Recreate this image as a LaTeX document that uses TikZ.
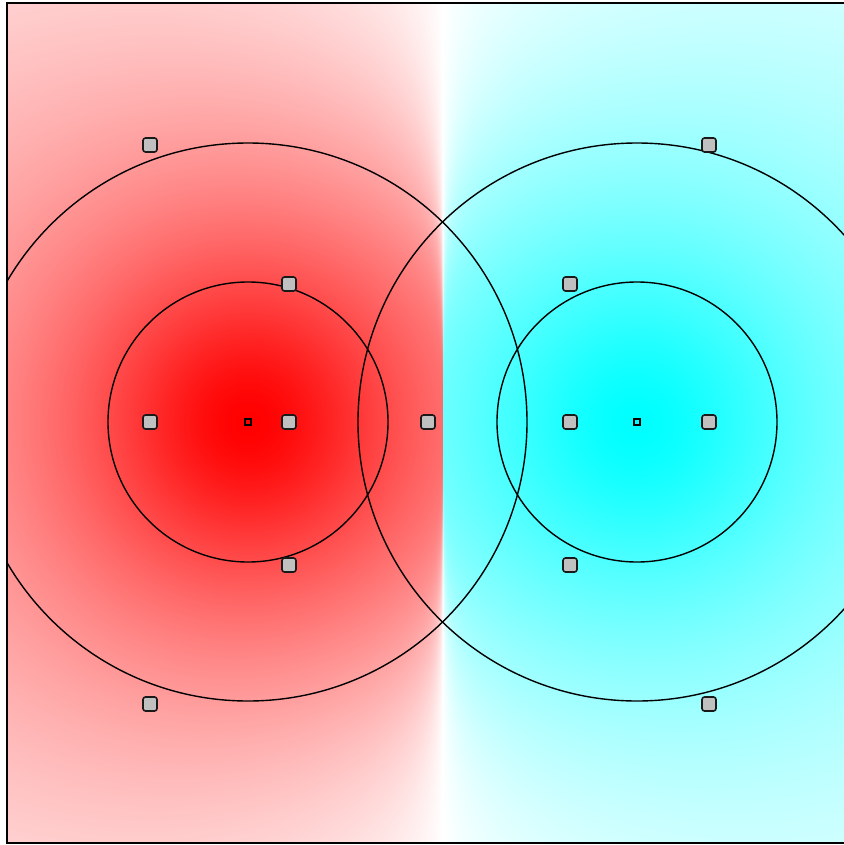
\documentclass[tikz,border=0pt]{standalone}
\pgfdeclarefunctionalshading{field}{\pgfpoint{0bp}{0bp}}{\pgfpoint{844bp}{845bp}}{}{
  423 sub dup mul exch dup 442.5 lt
  {
    dup 248 sub dup mul 2 index add sqrt
    205 div 1.8 exp 1 add 1 exch div 0.85 exp
    exch 442.5 exch sub
    dup 3 index 1000 div dup mul 0.003 mul 0.001 add add
    div mul exch pop
    1 exch sub 1 exch dup
  }
  {
    dup 637 sub dup mul 2 index add sqrt
    205 div 1.8 exp 1 add 1 exch div 0.85 exp
    exch 442.5 sub
    dup 3 index 1000 div dup mul 0.003 mul 0.001 add add
    div mul exch pop
    1 exch sub 1 1
  } ifelse
}
\definecolor{handlegray}{RGB}{192,192,192}
\tikzset{
  handle/.style={draw=black!90, fill=handlegray, line width=1.6bp, rectangle,
    rounded corners=2.5bp, minimum size=14bp, inner sep=0pt},
  chg/.style={draw=black, line width=1.6bp, rectangle, minimum size=6.5bp, inner sep=0pt},
  ring/.style={draw=black, line width=1.4bp},
  frameline/.style={draw=black, line width=2bp}
}
\begin{document}
\begin{tikzpicture}[x=1bp,y=-1bp]
\clip (0,0) rectangle (844,845);
\begin{scope}
  \clip (7,2.7) rectangle (852,843);
  \node[inner sep=0pt, outer sep=0pt, anchor=north west] (bg) at (0,0) {\pgfuseshading{field}};
  \coordinate (cL) at (248,422);
  \coordinate (cR) at (637,422);
  \draw[ring] (cL) circle[radius=279];
  \draw[ring] (cL) circle[radius=140];
  \draw[ring] (cR) circle[radius=279];
  \draw[ring] (cR) circle[radius=140];
  \node[chg] (qL) at (cL) {};
  \node[chg] (qR) at (cR) {};
  \node[handle] (m1) at (150,145) {};
  \node[handle] (m2) at (150,422) {};
  \node[handle] (m3) at (150,704) {};
  \node[handle] (m4) at (289,284) {};
  \node[handle] (m5) at (289,422) {};
  \node[handle] (m6) at (289,565) {};
  \node[handle] (m7) at (428,422) {};
  \node[handle] (m8) at (570,284) {};
  \node[handle] (m9) at (570,422) {};
  \node[handle] (m10) at (570,565) {};
  \node[handle] (m11) at (709,145) {};
  \node[handle] (m12) at (709,422) {};
  \node[handle] (m13) at (709,704) {};
\end{scope}
\draw[frameline] (7,2.7) rectangle (852,843);
\end{tikzpicture}
\end{document}
